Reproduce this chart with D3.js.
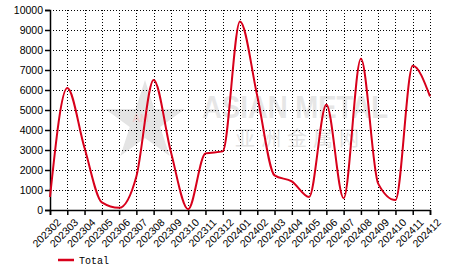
<!DOCTYPE html>
<html><head><meta charset="utf-8">
<script src="https://cdn.jsdelivr.net/npm/d3@7"></script>
<style>body{margin:0;background:#fff}svg{display:block}</style>
</head><body>
<script>
const categories = ["202302","202303","202304","202305","202306","202307","202308","202309","202310","202311","202312","202401","202402","202403","202404","202405","202406","202407","202408","202409","202410","202411","202412"];
const totalValues = [650,6100,3100,380,110,1680,6500,2900,40,2830,2930,9430,5700,1730,1430,650,5280,590,7560,1320,500,7210,5680];
const yTicks = [0,1000,2000,3000,4000,5000,6000,7000,8000,9000,10000];
const seriesName = "Total";

const W=466,H=272, m={l:50,r:36,t:10,b:62};
const svg=d3.select("body").append("svg").attr("width",W).attr("height",H);
const x=d3.scalePoint().domain(categories).range([m.l,W-m.r]);
const y=d3.scaleLinear().domain([0,10000]).range([H-m.b,m.t]);

// watermark
const wm=svg.append("g");
const star=d3.range(10).map(i=>{const r=i%2?16:42, a=-Math.PI/2+i*Math.PI/5; return [145+r*Math.cos(a),122+r*Math.sin(a)];});
wm.append("polygon").attr("points",star.map(p=>p.join(",")).join(" ")).attr("fill","#e4e4e4");
wm.append("text").attr("x",141).attr("y",122).attr("text-anchor","middle").attr("font-family","Liberation Sans, Arial").attr("font-size",11).attr("fill","#f3c9c9").text("AM");
wm.append("text").attr("x",202).attr("y",118).attr("textLength",186).attr("lengthAdjust","spacingAndGlyphs").attr("font-family","Liberation Sans, Arial").attr("font-size",32).attr("font-weight","bold").attr("fill","#e6e6e6").text("ASIAN METAL");
wm.append("text").attr("x",235).attr("y",146).attr("font-family","Noto Sans CJK SC").attr("font-size",20).attr("letter-spacing",6).attr("fill","#e2e2e2").text("亚洲金属网");

// grid
const grid=svg.append("g").attr("stroke","#000").attr("stroke-width",1).attr("stroke-dasharray","1,2").attr("shape-rendering","crispEdges");
grid.selectAll(".h").data(yTicks.filter(d=>d>0)).join("line")
  .attr("x1",m.l).attr("x2",W-m.r).attr("y1",d=>Math.round(y(d))+0.5).attr("y2",d=>Math.round(y(d))+0.5);
grid.selectAll(".v").data(categories.slice(1)).join("line")
  .attr("y1",m.t).attr("y2",H-m.b).attr("x1",d=>Math.round(x(d))+0.5).attr("x2",d=>Math.round(x(d))+0.5);

// axes
const ya=svg.append("g").attr("transform",`translate(${m.l},0)`)
  .call(d3.axisLeft(y).tickValues(yTicks).tickSize(5).tickPadding(2).tickFormat(d3.format("d")));
const xa=svg.append("g").attr("transform",`translate(0,${H-m.b})`)
  .call(d3.axisBottom(x).tickSize(5).tickPadding(2));
[ya,xa].forEach(a=>{a.selectAll("path,line").attr("stroke","#000").attr("stroke-width",1.5);
  a.selectAll("text").attr("fill","#000").attr("font-family","Liberation Sans, Arial").attr("font-size",10.5);});
xa.selectAll("text").attr("text-anchor","end").attr("dy","0.3em").attr("dx","0")
  .attr("transform","translate(4,6) rotate(-45)");

// line
svg.append("path").datum(totalValues)
  .attr("fill","none").attr("stroke","#d8001b").attr("stroke-width",2)
  .attr("d",d3.line().x((d,i)=>x(categories[i])).y(d=>y(d)).curve(d3.curveMonotoneX));

// legend
svg.append("line").attr("x1",58).attr("x2",74).attr("y1",260).attr("y2",260).attr("stroke","#d8001b").attr("stroke-width",2.5);
svg.append("text").attr("x",79).attr("y",263.5).attr("font-family","Liberation Mono, DejaVu Sans Mono, monospace").attr("font-size",10).attr("fill","#000").text(seriesName);
</script>
</body></html>
